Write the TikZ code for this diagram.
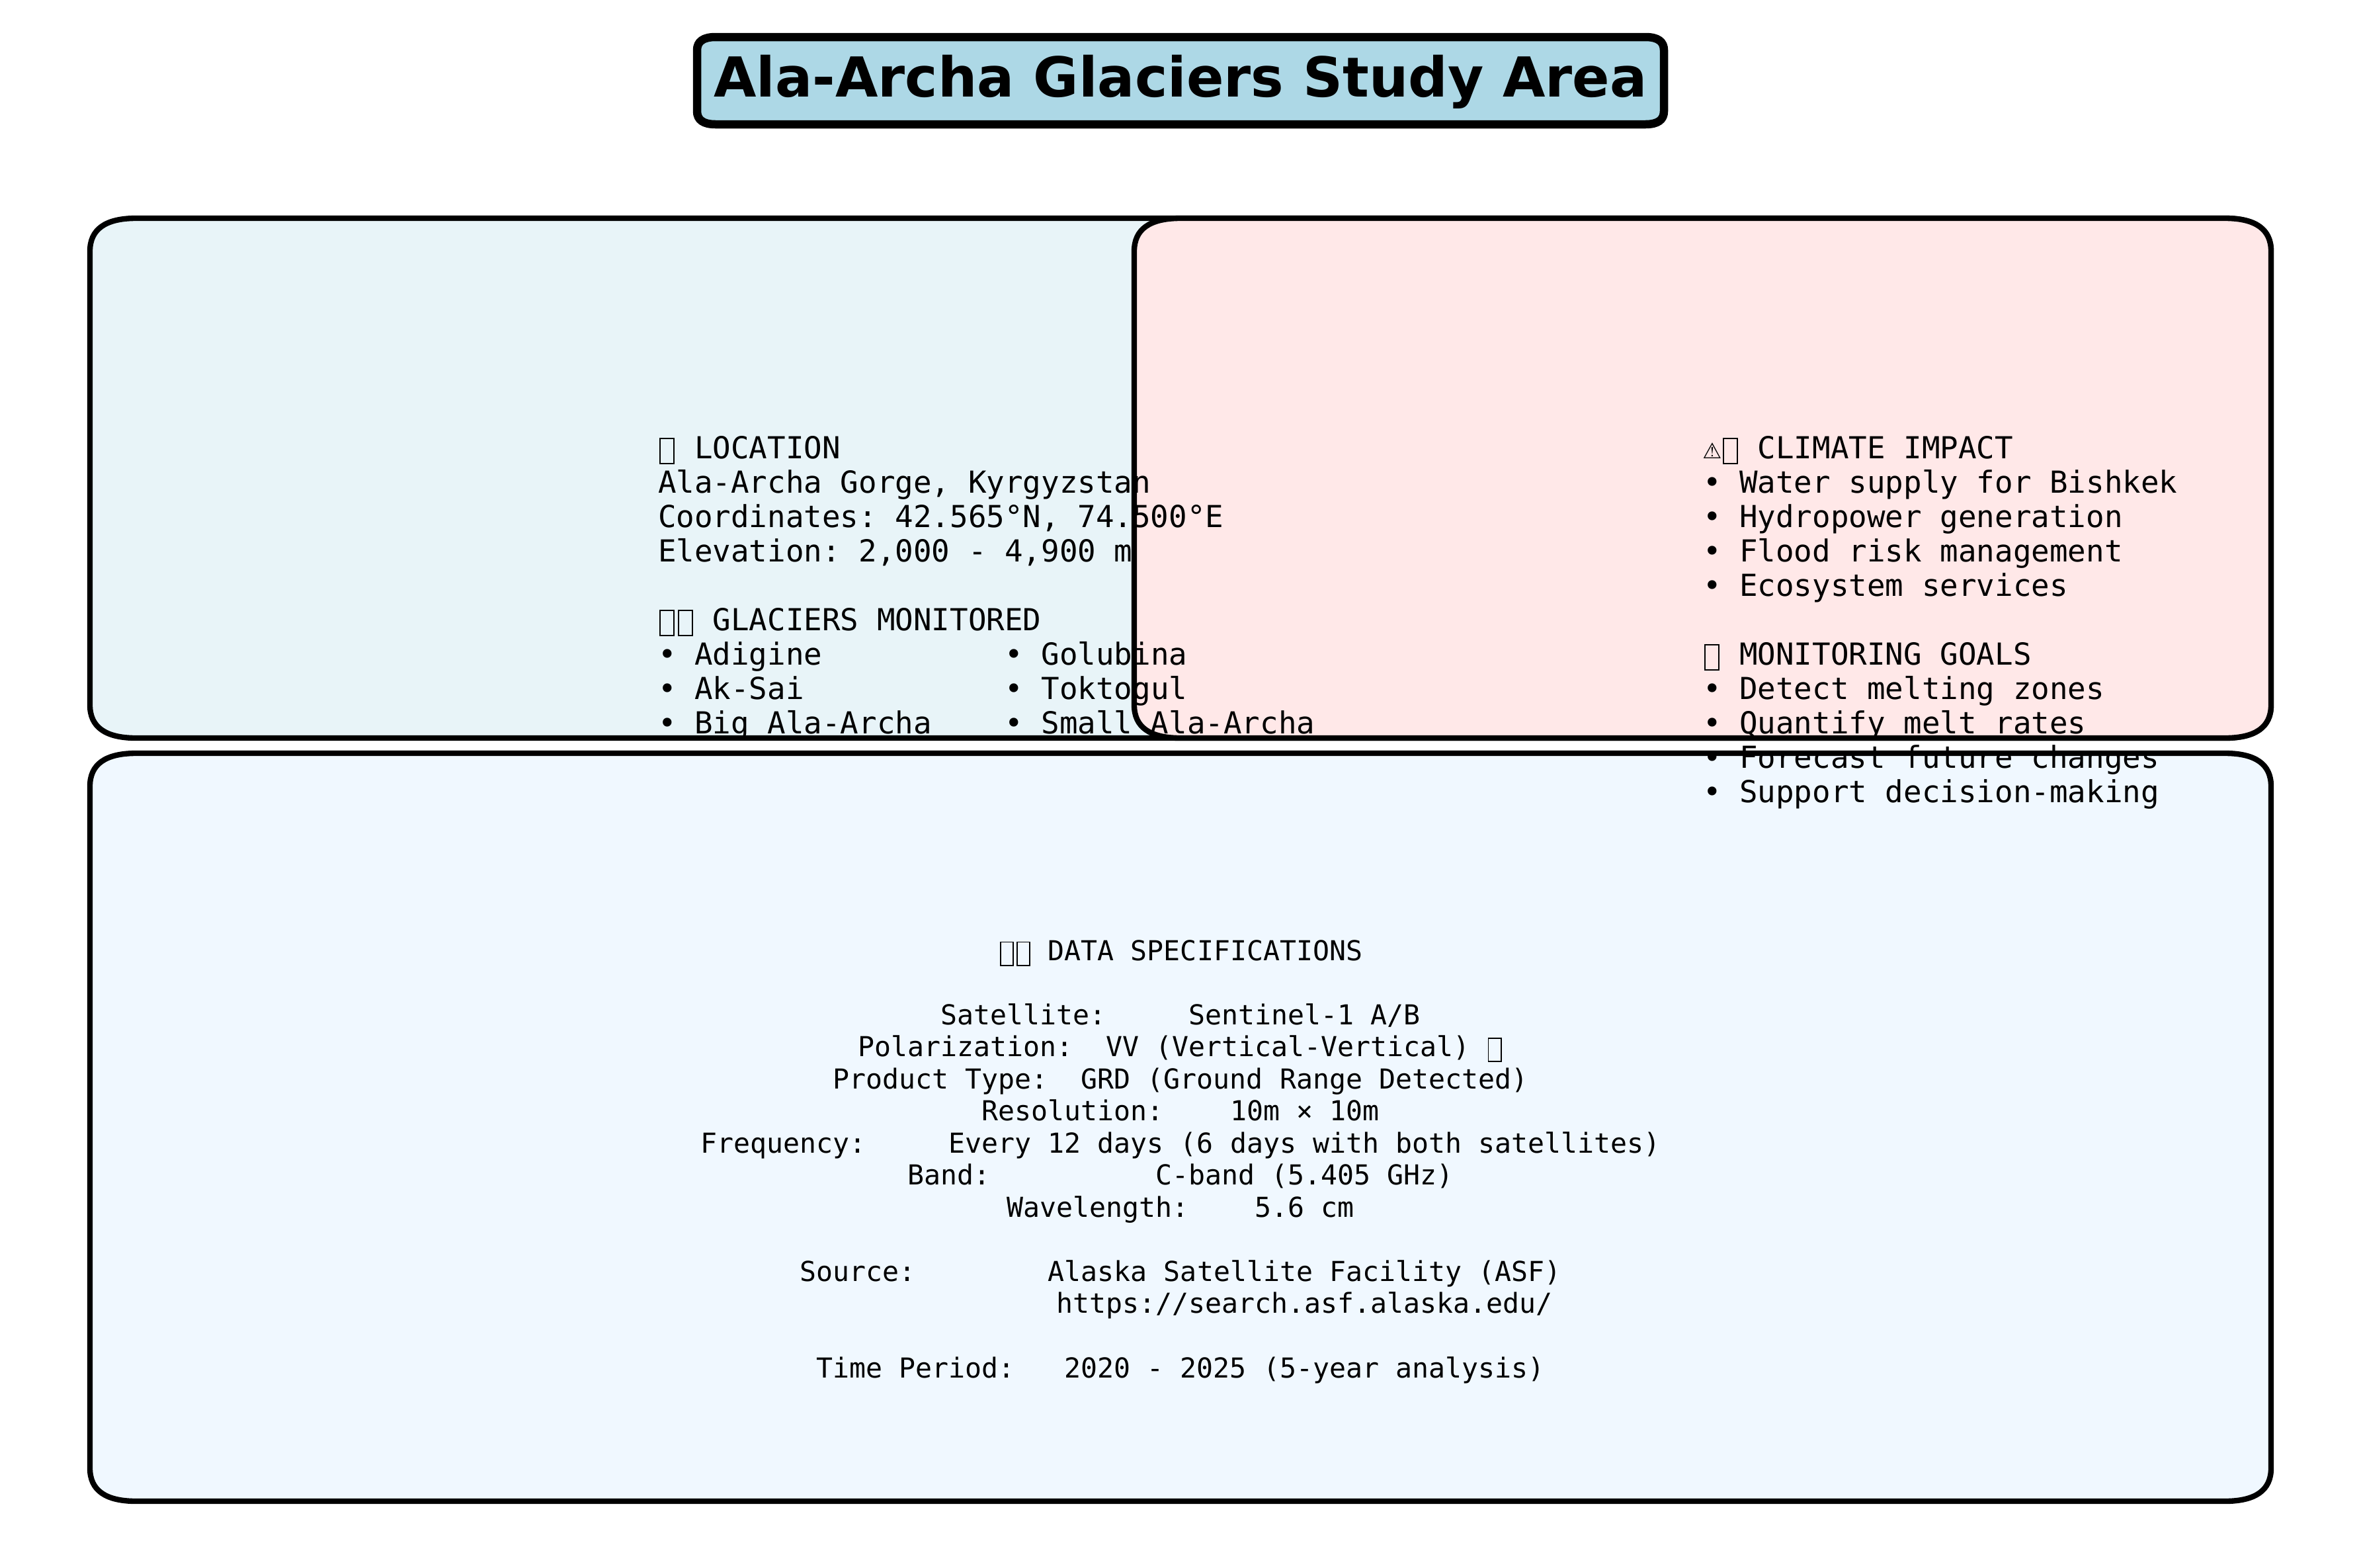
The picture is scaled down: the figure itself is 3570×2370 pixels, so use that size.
\documentclass[tikz,border=0pt]{standalone}
\usepackage{fontspec}
\setmainfont{DejaVu Sans}
\newfontfamily\monofam{DejaVu Sans Mono}
\definecolor{titlefill}{HTML}{ADD8E6}
\definecolor{locfill}{HTML}{E8F4F8}
\definecolor{impactfill}{HTML}{FFE8E8}
\definecolor{specfill}{HTML}{F0F8FF}
\newcommand\tofu{\makebox[.602em][c]{\raisebox{-.16em}{\fboxsep=0pt \fboxrule=.45pt\fbox{\rule{0pt}{.8em}\rule{.42em}{0pt}}}}}
% box with the soft, wider-than-tall corners of the reference: [style]{x0}{y0}{x1}{y1}{rx}{ry}
\newcommand\softbox[7][]{%
  \draw[#1] ({#2+#6},#3) -- ({#4-#6},#3)
    .. controls ({#4-#6/3},#3) and (#4,{#3+#7/3}) .. (#4,{#3+#7})
    -- (#4,{#5-#7})
    .. controls (#4,{#5-#7/3}) and ({#4-#6/3},#5) .. ({#4-#6},#5)
    -- ({#2+#6},#5)
    .. controls ({#2+#6/3},#5) and (#2,{#5-#7/3}) .. (#2,{#5-#7})
    -- (#2,{#3+#7})
    .. controls (#2,{#3+#7/3}) and ({#2+#6/3},#3) .. ({#2+#6},#3) -- cycle;}
\tikzset{
  panel/.style={draw=black,line width=2pt,line join=round},
  titlebox/.style={draw=black,line width=3pt,line join=round,fill=titlefill},
  bigtext/.style={inner sep=0pt,outer sep=0pt,align=left,anchor=base west,font=\monofam\frenchspacing\fontsize{11}{12.48}\selectfont},
  spectext/.style={inner sep=0pt,outer sep=0pt,align=center,anchor=base,font=\monofam\frenchspacing\fontsize{9.97}{11.65}\selectfont}
}
\begin{document}
\begin{tikzpicture}[x=0.24pt,y=-0.24pt]
\useasboundingbox (0,0) rectangle (3570,2370);
\softbox[panel,fill=locfill]{136}{330}{3434}{1116}{70}{50}
\softbox[panel,fill=impactfill]{1715}{330}{3434}{1116}{70}{50}
\softbox[panel,fill=specfill]{136}{1139}{3434}{2270}{70}{50}
\softbox[titlebox]{1054}{56}{2516}{188}{28}{20}
\node[inner sep=0pt,anchor=base,font=\bfseries\fontsize{20}{24}\selectfont] (titletext) at (1785,146) {Ala-Archa Glaciers Study Area};
\node[bigtext] (loctext) at (995,1109) {\tofu{} LOCATION\\
Ala-Archa Gorge, Kyrgyzstan\\
Coordinates: 42.565°N, 74.500°E\\
Elevation: 2,000 - 4,900 m\\
~\\
\tofu\tofu{} GLACIERS MONITORED\\
• Adigine~~~~~~~~~~• Golubina\\
• Ak-Sai~~~~~~~~~~~• Toktogul\\
• Big Ala-Archa~~~~• Small Ala-Archa};
\node[bigtext] (impacttext) at (2575,1213) {⚠\tofu{} CLIMATE IMPACT\\
• Water supply for Bishkek\\
• Hydropower generation\\
• Flood risk management\\
• Ecosystem services\\
~\\
\tofu{} MONITORING GOALS\\
• Detect melting zones\\
• Quantify melt rates\\
• Forecast future changes\\
• Support decision-making};
\node[spectext] (spectext) at (1785,2083) {\tofu\tofu{} DATA SPECIFICATIONS\\
~\\
Satellite:~~~~~Sentinel-1 A/B\\
Polarization:~~VV (Vertical-Vertical) \tofu\\
Product Type:~~GRD (Ground Range Detected)\\
Resolution:~~~~10m × 10m\\
Frequency:~~~~~Every 12 days (6 days with both satellites)\\
Band:~~~~~~~~~~C-band (5.405 GHz)\\
Wavelength:~~~~5.6 cm\\
~\\
Source:~~~~~~~~Alaska Satellite Facility (ASF)\\
~~~~~~~~~~~~~~~https://search.asf.alaska.edu/\\
~\\
Time Period:~~~2020 - 2025 (5-year analysis)};
\end{tikzpicture}
\end{document}
